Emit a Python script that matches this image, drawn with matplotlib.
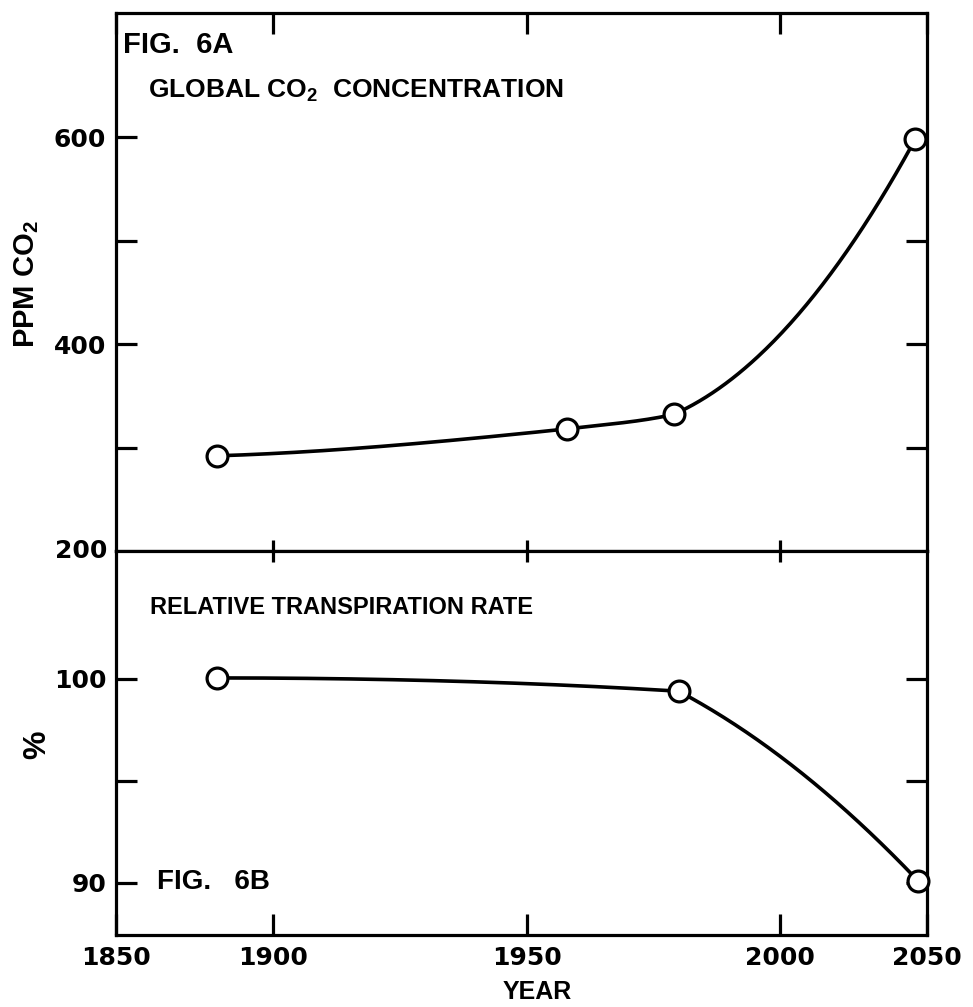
import numpy as np
import matplotlib
matplotlib.use("Agg")
import matplotlib.pyplot as plt

#---------------------------------------------------------------
# data
#---------------------------------------------------------------
co2_year = [1882, 1958, 1979, 2046]
co2_ppm = [292, 318, 332, 598]

trans_year = [1882, 1980, 2047]
trans_pct = [100.05, 99.4, 90.1]

year_ticks = [1850, 1900, 1950, 2000, 2050]
year_labels = ['1850', '1900', '1950', '2000', '2050']
ppm_ticks = [300, 400, 500, 600]
ppm_labels = {200: '200', 400: '400', 600: '600'}
pct_ticks = [90, 95, 100]
pct_labels = {90: '90', 100: '100'}

# the year axis of the original is not evenly spaced
year_breaks = [1750, 1850, 1900, 1950, 2000, 2050, 2150]
break_pos = [-1.24, 0.0, 0.62, 1.62, 2.62, 3.20, 4.36]

def fwd(x):
    return np.interp(x, year_breaks, break_pos)

def inv(u):
    return np.interp(u, break_pos, year_breaks)

#---------> hand-drawn-like curve: cubic Hermite pieces
# incoming slope at a node = harmonic mean, outgoing = weighted mean (small kink allowed)
def curve(x, y, npts=150):
    x = np.asarray(x, float); y = np.asarray(y, float)
    h = np.diff(x); d = np.diff(y) / h
    n = len(x)
    m_in = np.zeros(n); m_out = np.zeros(n)
    for k in range(1, n-1):
        if d[k-1]*d[k] > 0:
            w1 = 2*h[k] + h[k-1]; w2 = h[k] + 2*h[k-1]
            m_in[k] = (w1 + w2) / (w1/d[k-1] + w2/d[k])
        m_out[k] = (h[k]*d[k-1] + h[k-1]*d[k]) / (h[k-1] + h[k])
    m_out[0] = ((2*h[0] + h[1])*d[0] - h[0]*d[1]) / (h[0] + h[1])
    m_in[-1] = ((2*h[-1] + h[-2])*d[-1] - h[-1]*d[-2]) / (h[-1] + h[-2])
    xs, ys = [], []
    for k in range(n-1):
        lo, hi = min(0, 3*d[k]), max(0, 3*d[k])
        m0 = np.clip(m_out[k], lo, hi)
        m1 = np.clip(m_in[k+1], lo, hi)
        t = np.linspace(0, 1, npts)
        h00 = 2*t**3 - 3*t**2 + 1; h10 = t**3 - 2*t**2 + t
        h01 = -2*t**3 + 3*t**2; h11 = t**3 - t**2
        xs.append(x[k] + t*h[k])
        ys.append(h00*y[k] + h10*h[k]*m0 + h01*y[k+1] + h11*h[k]*m1)
    return np.concatenate(xs), np.concatenate(ys)

def smooth(xs, ys):
    un, yn = curve(fwd(np.array(xs, float)), ys)
    return inv(un), yn

plt.rcParams.update({'font.family': 'DejaVu Sans', 'font.weight': 'bold',
                     'mathtext.fontset': 'custom',
                     'mathtext.rm': 'Liberation Sans',
                     'mathtext.bf': 'Liberation Sans:bold',
                     'font.size': 18})
lab = dict(family='Liberation Sans', weight='bold')

fig = plt.figure(figsize=(9.73, 10.07), dpi=100)
ax1 = fig.add_axes([0.1192, 0.4528, 0.8335, 0.5343])
ax2 = fig.add_axes([0.1192, 0.0715, 0.8335, 0.3813])

lw = 2.3
for ax in (ax1, ax2):
    ax.set_xscale('function', functions=(fwd, inv))
    ax.set_xlim(1850, 2050)
    for s in ax.spines.values():
        s.set_linewidth(lw)
    ax.xaxis.remove_overlapping_locs = False
    ax.set_xticks(year_ticks)
    ax.set_xticks([1900, 1950, 2000], minor=True)
    ax.tick_params(axis='both', which='major', direction='in', length=15, width=lw,
                   left=True, right=True, labelsize=18, pad=7)
    ax.tick_params(axis='x', which='minor', direction='in', length=8, width=lw)

#---------> top panel: CO2
ax1.set_ylim(200, 720)
ax1.set_yticks(ppm_ticks)
ax1.set_yticklabels([ppm_labels.get(v, '') for v in ppm_ticks])
ax1.tick_params(axis='x', which='major', top=True, bottom=False, labelbottom=False)
ax1.tick_params(axis='x', which='minor', top=False, bottom=True)
xs, ys = smooth(co2_year, co2_ppm)
ax1.plot(xs, ys, color='black', linewidth=2.6, zorder=3)
ax1.plot(co2_year, co2_ppm, 'o', ms=15, mfc='white', mec='black', mew=2.3,
         zorder=4, clip_on=False)
ax1.text(0.009, 0.94, 'FIG.  6A', transform=ax1.transAxes, fontsize=21,
         va='center', ha='left', **lab)
ax1.text(0.039, 0.855, r'GLOBAL $\mathbf{CO_2}$  CONCENTRATION', transform=ax1.transAxes,
         fontsize=19, va='center', ha='left', **lab)

#---------> bottom panel: transpiration
ax2.set_ylim(87.45, 106.27)
ax2.set_yticks(pct_ticks)
ax2.set_yticklabels([pct_labels.get(v, '') for v in pct_ticks])
ax2.set_xticklabels(year_labels)
ax2.tick_params(axis='x', which='major', top=False, bottom=True, labelbottom=True, pad=8)
ax2.tick_params(axis='x', which='minor', top=True, bottom=False)
xs, ys = smooth(trans_year, trans_pct)
ax2.plot(xs, ys, color='black', linewidth=2.6, zorder=3)
ax2.plot(trans_year, trans_pct, 'o', ms=15, mfc='white', mec='black', mew=2.3,
         zorder=4, clip_on=False)
ax2.text(0.042, 0.852, 'RELATIVE TRANSPIRATION RATE', transform=ax2.transAxes,
         fontsize=17, va='center', ha='left', **lab)
ax2.text(0.05, 0.138, 'FIG.   6B', transform=ax2.transAxes, fontsize=20,
         va='center', ha='left', **lab)

# the 200 label sits on the shared border
fig.text(0.1192 - 0.009, 0.4528, '200', ha='right', va='center', fontsize=18)

fig.text(27/973, 1 - 284/1007, r'PPM $\mathbf{CO_2}$', rotation=90, ha='center',
         va='center', fontsize=21, **lab)
fig.text(37/973, 1 - 745/1007, '%', rotation=90, ha='center', va='center',
         fontsize=23, **lab)
fig.text(537/973, 1 - 992/1007, 'YEAR', ha='center', va='center', fontsize=18, **lab)

fig.savefig('out.png', dpi=100)
